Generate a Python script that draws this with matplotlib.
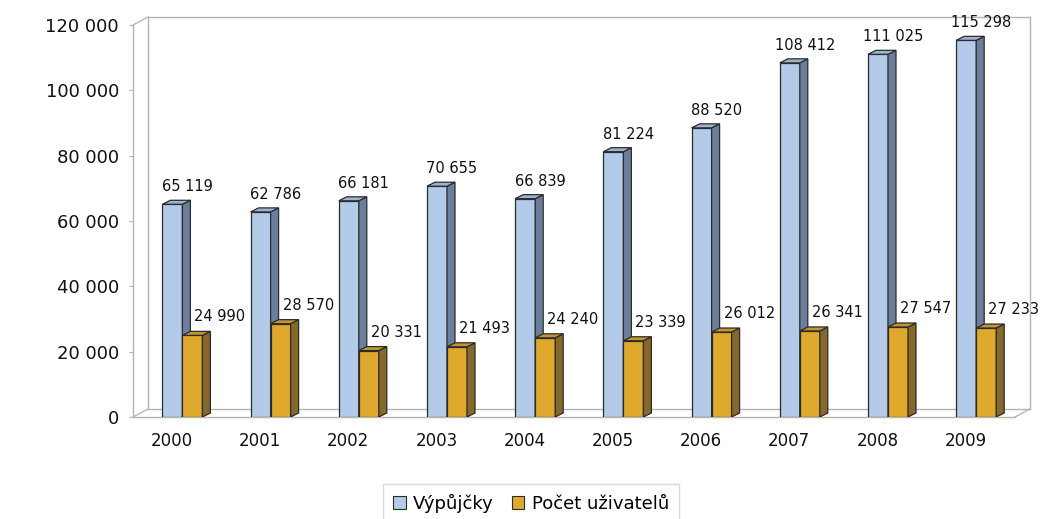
import matplotlib
matplotlib.use("Agg")
import matplotlib.pyplot as plt
import matplotlib.transforms as mtransforms
from matplotlib.patches import Patch, Polygon
from matplotlib.lines import Line2D
from matplotlib.ticker import FuncFormatter

years = ['2000', '2001', '2002', '2003', '2004',
         '2005', '2006', '2007', '2008', '2009']
vypujcky = [65119, 62786, 66181, 70655, 66839,
            81224, 88520, 108412, 111025, 115298]
uzivatele = [24990, 28570, 20331, 21493, 24240,
             23339, 26012, 26341, 27547, 27233]
series_names = ['Výpůjčky', 'Počet uživatelů']

BLUE = ('#b3cbe9', '#6b7f9c', '#9db3d2')     # front, side, top
GOLD = ('#dfa92e', '#85682a', '#c4962f')
EDGE = '#2b2b2b'
WALL = '#b5b5b5'

plt.rcParams['font.family'] = ['DejaVu Sans']


def spaced(v, pos=None):
    return f'{int(v):,}'.replace(',', ' ')


fig = plt.figure(figsize=(10.46, 5.19), dpi=100)
W, H = 1046, 519
ax = fig.add_axes([133 / W, 1 - 417 / H, (1015 - 133) / W, (417 - 25) / H])
ax.set_xlim(-0.5, 9.5)
ax.set_ylim(0, 120000)

# pseudo 3D depth of bars, in data units (8 px right, 4 px up)
px_x = 10 / (1015 - 133)
px_y = 120000 / (417 - 25)
ddx, ddy = 8 * px_x, 4 * px_y
bw = 20 * px_x
shift = 0.06


def bar3d(x0, h, colors, z):
    front, side, top = colors
    ax.bar(x0, h, width=bw, align='edge', color=front,
           edgecolor=EDGE, linewidth=0.9, zorder=z)
    x1 = x0 + bw
    ax.add_patch(Polygon([(x1, 0), (x1 + ddx, ddy), (x1 + ddx, h + ddy),
                          (x1, h)], closed=True, facecolor=side,
                         edgecolor=EDGE, linewidth=0.9, zorder=z))
    ax.add_patch(Polygon([(x0, h), (x0 + ddx, h + ddy), (x1 + ddx, h + ddy),
                          (x1, h)], closed=True, facecolor=top,
                         edgecolor=EDGE, linewidth=0.9, zorder=z))


for i, (b, g) in enumerate(zip(vypujcky, uzivatele)):
    xc = i + shift
    bar3d(xc - bw, b, BLUE, 3)
    bar3d(xc, g, GOLD, 4)
    ax.annotate(spaced(b), (xc, b), xytext=(3.6, 7.2),
                textcoords='offset points', ha='center', va='bottom',
                fontsize=10.5, color='#111111', zorder=6)
    ax.annotate(spaced(g), (xc, g), xytext=(8.6, 7.9),
                textcoords='offset points', ha='left', va='bottom',
                fontsize=10.5, color='#111111', zorder=6)

# walls and floor of the 3D box
off = mtransforms.offset_copy(ax.transAxes, fig=fig, x=15, y=8, units='dots')
kw = dict(color=WALL, linewidth=1.0, zorder=1, clip_on=False)
for tr, xs, ys in [(ax.transAxes, [0, 0], [0, 1]),
                   (off, [0, 0], [0, 1]),
                   (off, [0, 1], [1, 1]),
                   (off, [1, 1], [0, 1]),
                   (off, [0, 1], [0, 0]),
                   (ax.transAxes, [0, 1], [0, 0])]:
    ax.add_line(Line2D(xs, ys, transform=tr, **kw))
for p in [(0, 1), (0, 0), (1, 0)]:
    a = ax.transAxes.transform(p)
    b = off.transform(p)
    ax.add_line(Line2D([a[0], b[0]], [a[1], b[1]], transform=None, **kw))

for s in ax.spines.values():
    s.set_visible(False)
ax.set_facecolor('none')

ax.set_yticks(range(0, 120001, 20000))
ax.yaxis.set_major_formatter(FuncFormatter(spaced))
ax.tick_params(axis='y', length=3, color=WALL, pad=7, labelsize=13,
               labelcolor='#111111')
ax.set_xticks([i - 0.06 for i in range(len(years))])
ax.set_xticklabels(years)
ax.tick_params(axis='x', length=0, pad=11, labelsize=12, labelcolor='#111111')

handles = [Patch(facecolor=BLUE[0], edgecolor=EDGE, linewidth=0.8),
           Patch(facecolor=GOLD[0], edgecolor=EDGE, linewidth=0.8)]
leg = fig.legend(handles, series_names, loc='upper center',
                 bbox_to_anchor=(531 / W, 1 - 484 / H), ncol=2,
                 fontsize=13, frameon=True, fancybox=False,
                 borderpad=0.55, borderaxespad=0.0,
                 handlelength=0.7, handleheight=0.7,
                 handletextpad=0.4, columnspacing=1.0)
leg.get_frame().set_edgecolor('#d0d0d0')
leg.get_frame().set_linewidth(1.0)

fig.savefig('out.png', dpi=100)
